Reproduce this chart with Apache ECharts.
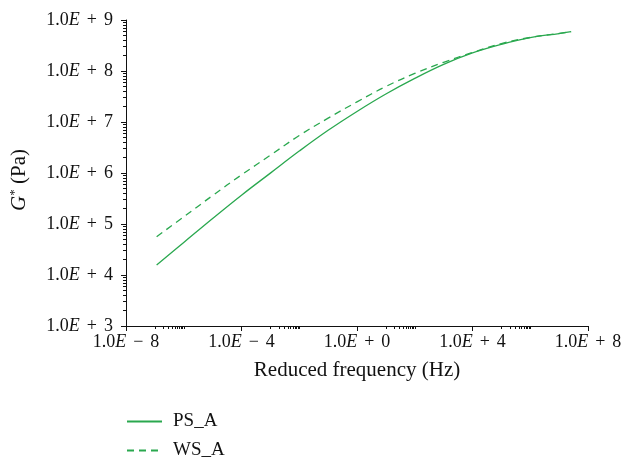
<!DOCTYPE html>
<html>
<head>
<meta charset="utf-8">
<script src="https://cdn.jsdelivr.net/npm/echarts@6/dist/echarts.min.js"></script>
<style>
  html, body { margin: 0; padding: 0; background: #fff; }
  #chart { width: 637px; height: 465px; }
</style>
</head>
<body>
<div id="chart"></div>
<script>
// reduced frequency (Hz) and |G*| (Pa)
const freq = [1.15e-7, 1e-6, 1e-5, 1e-4, 1e-3, 1e-2, 1e-1, 1, 10, 100, 1e3, 1e4, 1e5, 1e6, 1e7, 2.6e7]
const psA = [1.57e4, 4.34e4, 1.28e5, 3.67e5, 9.95e5, 2.69e6, 6.87e6, 1.61e7, 3.54e7, 7.16e7, 1.35e8, 2.26e8, 3.33e8, 4.52e8, 5.43e8, 5.9e8]
const wsA = [5.64e4, 1.38e5, 3.62e5, 9.2e5, 2.23e6, 5.43e6, 1.19e7, 2.48e7, 4.97e7, 8.98e7, 1.48e8, 2.31e8, 3.45e8, 4.55e8, 5.45e8, 5.9e8]

// tick labels (exponents of ten)
const xTickExps = [-8, -4, 0, 4, 8]
const yTickExps = [3, 4, 5, 6, 7, 8, 9]
// decades that carry minor ticks on the x axis
const xMinorDecades = [-7, -3, 1, 5]

const GREEN = '#2aa84f'
const FONT = '"Liberation Serif", "DejaVu Serif", serif'

function sciLabel(v) {
  const e = Math.round(Math.log10(v))
  const sign = e < 0 ? '\u2212' : '+'
  return `{n|1.0}{e|E}{p|${sign}}{n|${Math.abs(e)}}`
}

const richText = {
  n: { fontFamily: FONT, fontSize: 18, color: '#111' },
  e: { fontFamily: FONT, fontSize: 18, fontStyle: 'italic', color: '#111' },
  p: { fontFamily: FONT, fontSize: 18, color: '#111', padding: [0, 7, 0, 7] },
}

// minor tick positions in decade space
const yMinor = []
for (let d = yTickExps[0]; d < yTickExps[yTickExps.length - 1]; d++) {
  for (let k = 2; k <= 9; k++) yMinor.push(d + Math.log10(k))
}
const xMinor = []
xMinorDecades.forEach((d) => {
  for (let k = 1; k <= 10; k++) xMinor.push(d + Math.log10(k))
})

const option = {
  animation: false,
  grid: { left: 126, right: 49, top: 20, bottom: 139 },
  legend: {
    orient: 'vertical',
    left: 126,
    top: 412,
    height: 60,
    padding: 0,
    itemWidth: 35,
    itemHeight: 14,
    itemGap: 10,
    itemStyle: { opacity: 0 },
    textStyle: { fontFamily: FONT, fontSize: 19, color: '#111', padding: [0, 0, 0, 6] },
    data: ['PS_A', 'WS_A'],
  },
  xAxis: [
    {
      type: 'log',
      logBase: 10,
      min: 1e-8,
      max: 1e8,
      interval: 4,
      name: 'Reduced frequency (Hz)',
      nameLocation: 'middle',
      nameGap: 34,
      nameTextStyle: { fontFamily: FONT, fontSize: 21, color: '#111' },
      axisLine: { onZero: false, lineStyle: { color: '#111', width: 1 } },
      axisTick: { show: true, length: 5, lineStyle: { color: '#111' } },
      axisLabel: { margin: 7, formatter: sciLabel, rich: richText },
      splitLine: { show: false },
      minorTick: { show: false },
    },
    {
      type: 'value',
      min: -8,
      max: 8,
      position: 'bottom',
      axisLine: { show: false, onZero: false },
      axisLabel: { show: false },
      splitLine: { show: false },
      axisTick: { show: true, length: 3, customValues: xMinor, lineStyle: { color: '#111' } },
    },
  ],
  yAxis: [
    {
      type: 'log',
      logBase: 10,
      min: 1e3,
      max: 1e9,
      interval: 1,
      name: '{g|G}{s|*} (Pa)',
      nameLocation: 'middle',
      nameGap: 96,
      nameTextStyle: {
        fontFamily: FONT,
        fontSize: 21,
        color: '#111',
        padding: [0, 14, 0, 0],
        rich: {
          g: { fontFamily: FONT, fontSize: 21, fontStyle: 'italic', color: '#111' },
          s: { fontFamily: FONT, fontSize: 13, color: '#111', verticalAlign: 'top', padding: [0, 0, 9, 0] },
        },
      },
      axisLine: { show: true, onZero: false, lineStyle: { color: '#111', width: 1 } },
      axisTick: { show: true, length: 5, lineStyle: { color: '#111' } },
      axisLabel: { margin: 13, formatter: sciLabel, rich: richText },
      splitLine: { show: false },
    },
    {
      type: 'value',
      min: 3,
      max: 9,
      position: 'left',
      axisLine: { show: false, onZero: false },
      axisLabel: { show: false },
      splitLine: { show: false },
      axisTick: { show: true, length: 3, customValues: yMinor, lineStyle: { color: '#111' } },
    },
  ],
  series: [
    {
      name: 'PS_A',
      type: 'line',
      smooth: 0.4,
      symbol: 'none',
      lineStyle: { color: GREEN, width: 1.3 },
      itemStyle: { color: GREEN },
      data: freq.map((f, i) => [f, psA[i]]),
    },
    {
      name: 'WS_A',
      type: 'line',
      smooth: 0.4,
      symbol: 'none',
      lineStyle: { color: GREEN, width: 1.3, type: [7, 5] },
      itemStyle: { color: GREEN },
      data: freq.map((f, i) => [f, wsA[i]]),
    },
  ],
}

const chart = echarts.init(document.getElementById('chart'))
chart.setOption(option)
</script>
</body>
</html>
